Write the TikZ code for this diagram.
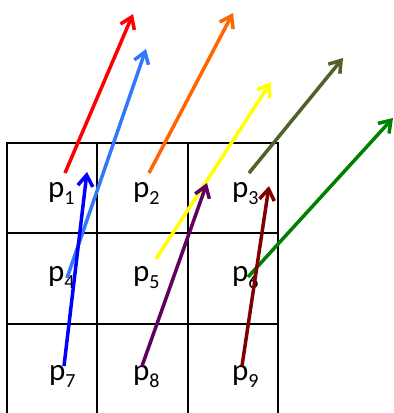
\documentclass[tikz,border=0pt]{standalone}
\usepackage{fontspec}
\setmainfont{Carlito}
\usetikzlibrary{arrows.meta}
\definecolor{cRed}{RGB}{255,0,0}
\definecolor{cLBlue}{RGB}{51,119,255}
\definecolor{cOrange}{RGB}{255,102,0}
\definecolor{cYellow}{RGB}{255,255,0}
\definecolor{cOlive}{RGB}{79,98,40}
\definecolor{cGreen}{RGB}{0,128,0}
\definecolor{cBlue}{RGB}{0,0,255}
\definecolor{cPurple}{RGB}{96,0,96}
\definecolor{cMaroon}{RGB}{128,0,0}
\newcommand{\plab}[1]{p{\fontsize{20}{20}\selectfont\raisebox{-7pt}{#1}}}
\begin{document}
\begin{tikzpicture}[x=1pt,y=-1pt,
  gridline/.style={line width=1.5pt,black},
  lab/.style={anchor=base west,inner sep=0pt,font=\fontsize{31}{31}\selectfont},
  vec/.style={line width=3.5pt,-{Straight Barb[length=11pt,width=15pt,line width=3.5pt]}}]
\useasboundingbox (0,0) rectangle (394,413);
% grid
\draw[gridline] (7,413) -- (7,143) -- (278,143) -- (278,413);
\draw[gridline] (97,143) -- (97,413);
\draw[gridline] (188,143) -- (188,413);
\draw[gridline] (7,233) -- (278,233);
\draw[gridline] (7,324) -- (278,324);
% labels
\node[lab] (p1) at (48,197) {\plab{1}};
\node[lab] (p2) at (133,197) {\plab{2}};
\node[lab] (p3) at (232,197) {\plab{3}};
\node[lab] (p4) at (48,281) {\plab{4}};
\node[lab] (p5) at (133,281) {\plab{5}};
\node[lab] (p6) at (232,281) {\plab{6}};
\node[lab] (p7) at (49,380) {\plab{7}};
\node[lab] (p8) at (133,380) {\plab{8}};
\node[lab] (p9) at (232,380) {\plab{9}};
% arrow endpoints
\coordinate (s1) at (65,173);  \coordinate (t1) at (133,14);
\coordinate (s4) at (67,278);  \coordinate (t4) at (146,49);
\coordinate (s2) at (149,173); \coordinate (t2) at (233,13);
\coordinate (s5) at (156,259); \coordinate (t5) at (271,82);
\coordinate (s3) at (249,173); \coordinate (t3) at (343,58);
\coordinate (s6) at (248,277); \coordinate (t6) at (393,118);
\coordinate (s7) at (64,366);  \coordinate (t7) at (87,172);
\coordinate (s8) at (142,366); \coordinate (t8) at (207,183);
\coordinate (s9) at (242,366); \coordinate (t9) at (269,186);
% arrows
\draw[vec,cRed] (s1) -- (t1);
\draw[vec,cLBlue] (s4) -- (t4);
\draw[vec,cOrange] (s2) -- (t2);
\draw[vec,cYellow] (s5) -- (t5);
\draw[vec,cOlive] (s3) -- (t3);
\draw[vec,cGreen] (s6) -- (t6);
\draw[vec,cBlue] (s7) -- (t7);
\draw[vec,cPurple] (s8) -- (t8);
\draw[vec,cMaroon] (s9) -- (t9);
\end{tikzpicture}
\end{document}
